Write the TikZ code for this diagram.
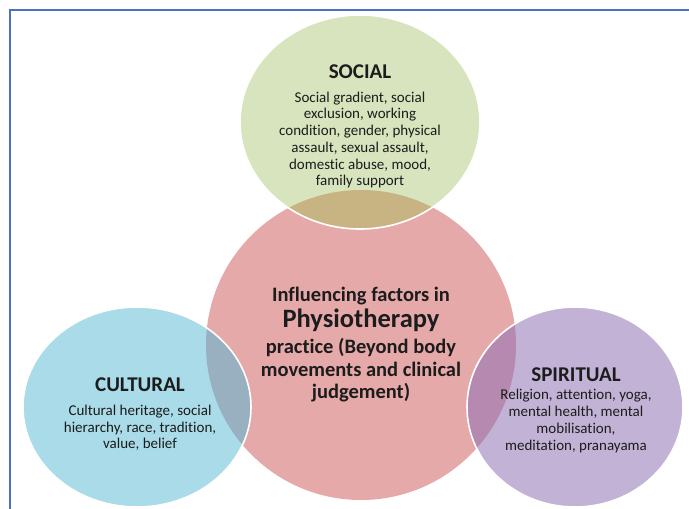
\documentclass[tikz,border=0pt]{standalone}
\usepackage{fontspec}
\setmainfont{Carlito}[Ligatures={NoCommon}]
\definecolor{framecol}{HTML}{4A72C0}
\definecolor{socialfill}{HTML}{D7E4BD}
\definecolor{corefill}{HTML}{E6A9A9}
\definecolor{culturefill}{HTML}{A9DBE8}
\definecolor{spiritfill}{HTML}{C2B3D6}
\definecolor{socialcore}{HTML}{C8B482}
\definecolor{culturecore}{HTML}{98B0BF}
\definecolor{spiritcore}{HTML}{B589B0}
\definecolor{ink}{HTML}{1C1C1C}
\begin{document}
\begin{tikzpicture}[x=1pt,y=-1pt,
  ring/.style={draw=white, line width=1.6pt},
  headtext/.style={font=\fontsize{21}{23}\selectfont\bfseries, text=ink, inner sep=0pt},
  bodytext/.style={font=\fontsize{15}{16.7}\selectfont, align=center, text=ink, inner sep=0pt},
  coretext/.style={font=\fontsize{20.5}{22.5}\selectfont\bfseries, align=center, text=ink, inner sep=0pt},
]
\useasboundingbox (0,0) rectangle (689,509);

% page frame
\draw[framecol, line width=1.6pt] (10,509) -- (10,10) -- (689,10);

% shapes of the four sets
\def\socialpath{(360,122) ellipse [x radius=120pt, y radius=107pt]}
\def\corepath{(361,345) circle [radius=155pt]}
\def\culturepath{(137,407) ellipse [x radius=114pt, y radius=100pt]}
\def\spiritpath{(575,407) ellipse [x radius=108pt, y radius=100pt]}

% central set
\fill[corefill] \corepath;
% outer sets
\fill[socialfill] \socialpath;
\fill[culturefill] \culturepath;
\fill[spiritfill] \spiritpath;

% overlaps with the central set
\begin{scope}
  \clip \corepath;
  \fill[socialcore] \socialpath;
  \fill[culturecore] \culturepath;
  \fill[spiritcore] \spiritpath;
\end{scope}

% white rims of the outer sets
\draw[ring] \socialpath;
\draw[ring] \culturepath;
\draw[ring] \spiritpath;

% texts
\node[headtext] (socialhead) at (360,72) {SOCIAL};
\node[bodytext] (socialbody) at (360,140) {Social gradient, social\\ exclusion, working\\ condition, gender, physical\\ assault, sexual assault,\\ domestic abuse, mood,\\ family support};

\node[coretext] (corebody) at (361,345) {Influencing factors in\\[3pt]
  {\fontsize{26.5}{27}\selectfont Physiotherapy}\\[4pt]
  practice (Beyond body\\ movements and clinical\\ judgement)};

\node[headtext] (culturehead) at (140,385) {CULTURAL};
\node[bodytext] (culturebody) at (140,428) {Cultural heritage, social\\ hierarchy, race, tradition,\\ value, belief};

\node[headtext] (spirithead) at (576,375) {SPIRITUAL};
\node[bodytext] (spiritbody) at (576,421) {Religion, attention, yoga,\\ mental health, mental\\ mobilisation,\\ meditation, pranayama};
\end{tikzpicture}
\end{document}
